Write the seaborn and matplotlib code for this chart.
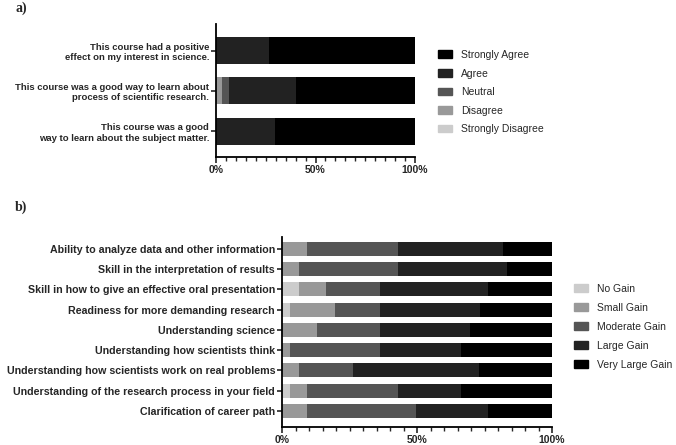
import numpy as np
import pandas as pd
import matplotlib
matplotlib.use("Agg")
import matplotlib.pyplot as plt
from matplotlib.patches import Patch
import seaborn as sns

sns.set_style("white")
plt.rcParams["font.family"] = ["Liberation Sans", "DejaVu Sans"]

# panel a data (percent of responses)
a_items = ["This course had a positive\neffect on my interest in science.",
           "This course was a good way to learn about\nprocess of scientific research.",
           "This course was a good\nway to learn about the subject matter."]
a_levels = ["Strongly Disagree", "Disagree", "Neutral", "Agree", "Strongly Agree"]
a_strongly_disagree = [0, 0, 0]
a_disagree = [0, 3, 0]
a_neutral = [0, 3.5, 0]
a_agree = [26.5, 33.5, 29.5]
a_strongly_agree = [73.5, 60, 70.5]

# panel b data (percent of responses)
b_items = ["Ability to analyze data and other information",
           "Skill in the interpretation of results",
           "Skill in how to give an effective oral presentation",
           "Readiness for more demanding research",
           "Understanding science",
           "Understanding how scientists think",
           "Understanding how scientists work on real problems",
           "Understanding of the research process in your field",
           "Clarification of career path"]
b_levels = ["No Gain", "Small Gain", "Moderate Gain", "Large Gain", "Very Large Gain"]
b_no_gain = [0, 0, 6.2, 2.8, 0, 0, 0, 2.8, 0]
b_small = [9.4, 6.2, 10, 16.7, 12.8, 2.8, 6.2, 6.6, 9.4]
b_moderate = [33.6, 36.8, 20, 16.7, 23.4, 33.4, 20, 33.6, 40.2]
b_large = [38.9, 40.2, 40.2, 37.3, 33.6, 30.2, 46.8, 23.4, 26.8]
b_very_large = [18.1, 16.8, 23.6, 26.5, 30.2, 33.6, 27, 33.6, 23.6]

greys = ["#cccccc", "#999999", "#555555", "#222222", "#000000"]


def stacked(ax, items, levels, parts, width, label_size):
    df = pd.DataFrame(dict(zip(levels, parts)))
    df["item"] = items
    cum = df[levels].cumsum(axis=1)
    # draw from the longest cumulative bar down so the layers stack
    for lev, col in reversed(list(zip(levels, greys))):
        sns.barplot(x=cum[lev], y=df["item"], color=col, width=width,
                    saturation=1, edgecolor="none", orient="h", ax=ax)
    ax.set_xlim(0, 100)
    ax.set_xticks([0, 50, 100])
    ax.set_xticklabels(["0%", "50%", "100%"], fontweight="bold", fontsize=7.5)
    ax.set_xticks(np.arange(0, 101, 5), minor=True)
    ax.set_xlabel("")
    ax.set_ylabel("")
    for lab in ax.get_yticklabels():
        lab.set_fontweight("bold")
        lab.set_fontsize(label_size)
    sns.despine(ax=ax)
    for s in ["left", "bottom"]:
        ax.spines[s].set_linewidth(1.3)
        ax.spines[s].set_color("black")
    ax.tick_params(axis="x", which="major", length=4, width=1.2, pad=2, bottom=True)
    ax.tick_params(axis="x", which="minor", length=3, width=1.0, bottom=True)
    ax.tick_params(axis="y", length=3.5, width=1.2, pad=1.5, left=True)


fig = plt.figure(figsize=(6.76, 4.45), dpi=100)

ax_a = fig.add_axes([216 / 676, 1 - 157 / 445, 199 / 676, 133 / 445])
stacked(ax_a, a_items, a_levels,
        [a_strongly_disagree, a_disagree, a_neutral, a_agree, a_strongly_agree],
        0.67, 6.8)
ax_a.set_ylim(2.64, -0.66)
for lab in ax_a.get_yticklabels():
    lab.set_multialignment("right")

ax_b = fig.add_axes([282 / 676, 18 / 445, 270 / 676, 190 / 445])
stacked(ax_b, b_items, b_levels,
        [b_no_gain, b_small, b_moderate, b_large, b_very_large], 0.69, 7.7)
ax_b.set_ylim(8.79, -0.59)

ha = [Patch(color=c, label=l) for l, c in zip(a_levels, greys)][::-1]
fig.legend(handles=ha, loc="upper left", bbox_to_anchor=(438 / 676, 1 - 50 / 445),
           frameon=False, fontsize=7.5, handlelength=1.35, handleheight=0.77,
           handletextpad=0.86, labelspacing=0.82, borderpad=0, borderaxespad=0)

hb = [Patch(color=c, label=l) for l, c in zip(b_levels, greys)]
fig.legend(handles=hb, loc="upper left", bbox_to_anchor=(574 / 676, 1 - 284 / 445),
           frameon=False, fontsize=7.5, handlelength=1.35, handleheight=0.77,
           handletextpad=0.86, labelspacing=0.86, borderpad=0, borderaxespad=0)

fig.text(15 / 676, 1 - 12 / 445, "a)", fontsize=10, fontweight="bold",
         family="Liberation Serif")
fig.text(15 / 676, 1 - 211 / 445, "b)", fontsize=10, fontweight="bold",
         family="Liberation Serif")

fig.savefig("out.png", dpi=100)
